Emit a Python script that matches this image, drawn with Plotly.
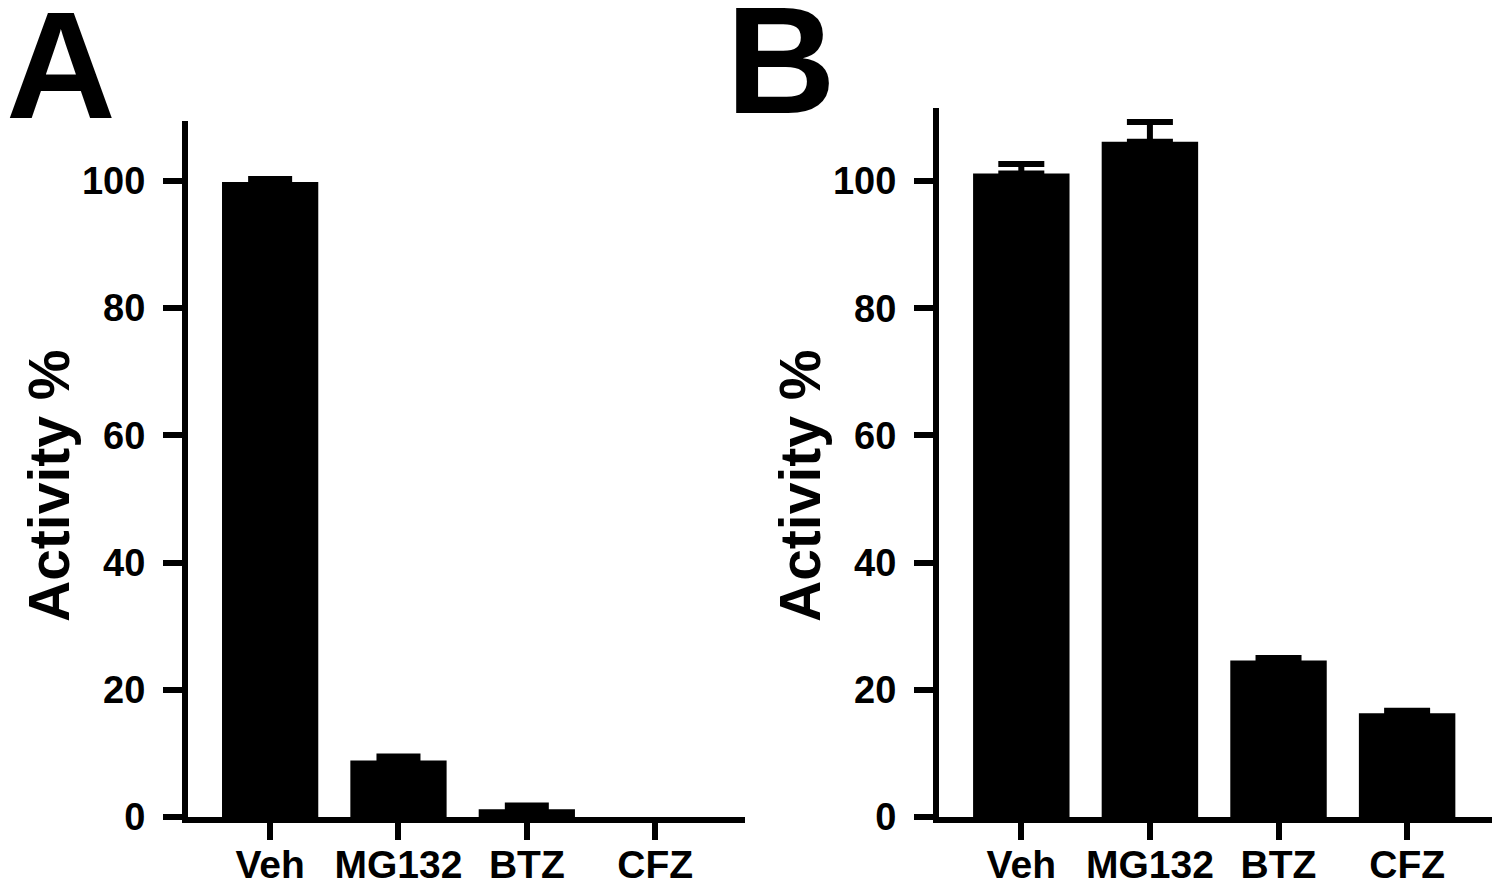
import plotly.graph_objects as go

categories = ["Veh", "MG132", "BTZ", "CFZ"]
values_a = [99.8, 8.9, 1.2, 0.0]
errors_a = [0.5, 0.6, 0.6, 0.0]
values_b = [101.2, 106.2, 24.6, 16.3]
errors_b = [1.5, 3.1, 0.4, 0.4]
y_ticks = [0, 20, 40, 60, 80, 100]

W, H = 1500, 885
FONT = "Liberation Sans, Arial, sans-serif"


def px_x(p):
    return p / W


def px_y(p):
    return 1 - p / H


def add_panel(fig, vals, errs, xa, ya, cap):
    fig.add_trace(go.Bar(
        x=categories, y=vals, xaxis=xa, yaxis=ya,
        marker=dict(color="black", line=dict(width=0)), width=0.75,
        showlegend=False, hoverinfo="skip",
    ))
    keep = [i for i, e in enumerate(errs) if e > 0]
    fig.add_trace(go.Scatter(
        x=[categories[i] for i in keep], y=[vals[i] for i in keep],
        xaxis=xa, yaxis=ya, mode="markers",
        marker=dict(size=1, color="black", opacity=0),
        error_y=dict(type="data", array=[errs[i] for i in keep],
                     arrayminus=[0] * len(keep), symmetric=False,
                     color="black", thickness=6, width=cap),
        showlegend=False, hoverinfo="skip",
    ))


fig = go.Figure()
add_panel(fig, values_a, errors_a, "x", "y", 22)
add_panel(fig, values_b, errors_b, "x2", "y2", 23)

xtickfont = dict(family=FONT, size=39, color="black", weight="bold")
ytickfont = dict(family=FONT, size=38, color="black", weight="bold")

common_x = dict(type="category", showline=True, linewidth=6, linecolor="black",
                ticks="outside", ticklen=17, tickwidth=6, tickcolor="black",
                showgrid=False, zeroline=False, tickfont=xtickfont,
                ticklabelstandoff=-9, automargin=False)
common_y = dict(showline=True, linewidth=6, linecolor="black",
                ticks="outside", ticklen=19, tickwidth=6, tickcolor="black",
                showgrid=False, zeroline=False, tickfont=ytickfont,
                tickvals=y_ticks, ticklabelstandoff=10, automargin=False)

fig.update_layout(
    width=W, height=H,
    margin=dict(l=0, r=0, t=0, b=0, autoexpand=False),
    paper_bgcolor="white", plot_bgcolor="white",
    xaxis=dict(domain=[px_x(188), px_x(745)], range=[-0.64, 3.7], anchor="y", **common_x),
    yaxis=dict(domain=[px_y(817), px_y(121)], range=[0, 109.4], anchor="x", **common_y),
    xaxis2=dict(domain=[px_x(939), px_x(1492)], range=[-0.64, 3.66], anchor="y2", **common_x),
    yaxis2=dict(domain=[px_y(817), px_y(108)], range=[0, 111.5], anchor="x2", **common_y),
    annotations=[
        dict(text="<b>A</b>", x=px_x(61), y=px_y(65), xref="paper", yref="paper",
             xanchor="center", yanchor="middle", showarrow=False,
             font=dict(family=FONT, size=152, color="black")),
        dict(text="<b>B</b>", x=px_x(781), y=px_y(60), xref="paper", yref="paper",
             xanchor="center", yanchor="middle", showarrow=False,
             font=dict(family=FONT, size=152, color="black")),
        dict(text="<b>Activity %</b>", x=px_x(49), y=px_y(486), xref="paper", yref="paper",
             xanchor="center", yanchor="middle", showarrow=False, textangle=-90,
             font=dict(family=FONT, size=57, color="black")),
        dict(text="<b>Activity %</b>", x=px_x(800), y=px_y(486), xref="paper", yref="paper",
             xanchor="center", yanchor="middle", showarrow=False, textangle=-90,
             font=dict(family=FONT, size=57, color="black")),
    ],
)

fig.write_html(
    "out.html",
    config={"displayModeBar": False},
    post_script="document.body.style.margin='0';document.body.style.overflow='hidden';",
)
